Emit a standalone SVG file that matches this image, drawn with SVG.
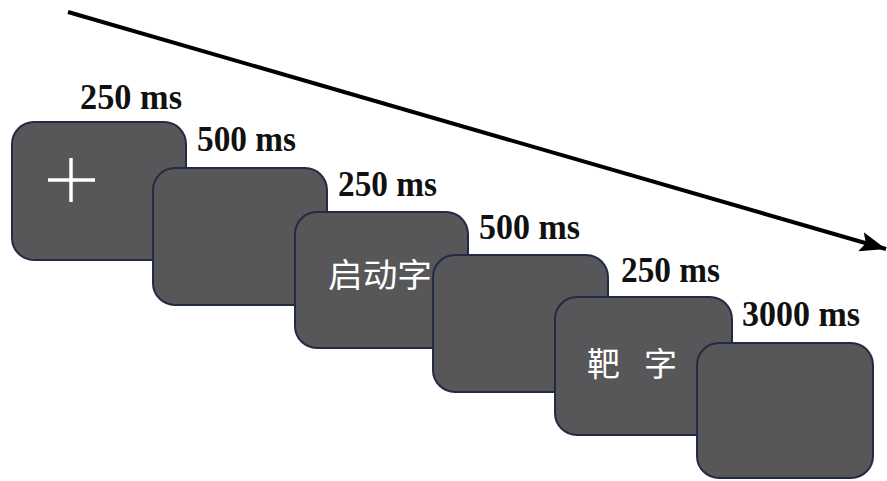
<svg xmlns="http://www.w3.org/2000/svg" width="887" height="481" viewBox="0 0 887 481">
<style>
.box{fill:#575759;stroke:#222b45;stroke-width:2}
.lbl{font-family:"Liberation Serif","Times New Roman",serif;font-weight:bold;font-size:35px;fill:#111}
.cn{font-family:"Noto Sans CJK SC","Noto Sans",sans-serif;font-size:33px;fill:#fff}
</style>
<defs>
<marker id="ah2" viewBox="0 0 26 20" refX="26" refY="10" markerWidth="26" markerHeight="20" orient="auto" markerUnits="userSpaceOnUse">
<path d="M0,0 L26,10 L0,20 L5,10 Z" fill="#000"/>
</marker>
</defs>
<g id="connectors">
<line x1="68" y1="12" x2="886" y2="249" stroke="#000" stroke-width="4" marker-end="url(#ah2)"/>
</g>
<g id="label1"><text class="lbl" x="80" y="109" textLength="102" lengthAdjust="spacingAndGlyphs">250 ms</text></g>
<g id="screen1">
<rect class="box" x="12" y="122" width="174" height="138" rx="22"/>
<path d="M48,180 H95 M71,158 V202" stroke="#fff" stroke-width="3.5" fill="none"/>
</g>
<g id="label2"><text class="lbl" x="197" y="151" textLength="99" lengthAdjust="spacingAndGlyphs">500 ms</text></g>
<g id="screen2">
<rect class="box" x="153" y="168" width="174" height="137" rx="22"/>
</g>
<g id="label3"><text class="lbl" x="338" y="196" textLength="99" lengthAdjust="spacingAndGlyphs">250 ms</text></g>
<g id="screen3">
<rect class="box" x="295" y="212" width="173" height="136" rx="22"/>
<text class="cn" x="328" y="287" textLength="104" lengthAdjust="spacingAndGlyphs">启动字</text>
</g>
<g id="label4"><text class="lbl" x="479" y="239" textLength="101" lengthAdjust="spacingAndGlyphs">500 ms</text></g>
<g id="screen4">
<rect class="box" x="433" y="255" width="175" height="137" rx="22"/>
</g>
<g id="label5"><text class="lbl" x="621" y="282" textLength="99" lengthAdjust="spacingAndGlyphs">250 ms</text></g>
<g id="screen5">
<rect class="box" x="555" y="297" width="177" height="138" rx="22"/>
<text class="cn" x="587" y="376" textLength="90" lengthAdjust="spacing" xml:space="preserve">靶 字</text>
</g>
<g id="label6"><text class="lbl" x="742" y="326" textLength="118" lengthAdjust="spacingAndGlyphs">3000 ms</text></g>
<g id="screen6">
<rect class="box" x="697" y="343" width="176" height="135" rx="22"/>
</g>
</svg>
